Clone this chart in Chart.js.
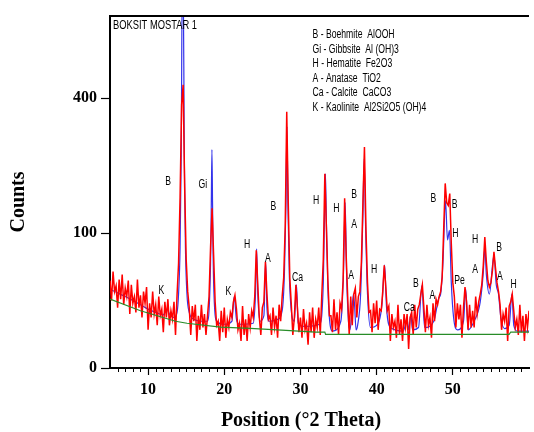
<!DOCTYPE html>
<html lang="bs">
<head>
<meta charset="UTF-8">
<title>Boksit Mostar 1 - XRD</title>
<script src="https://cdn.jsdelivr.net/npm/chart.js"></script>
<style>
  body { margin: 0; background: #fff; }
  #wrap { width: 534px; height: 432px; position: relative; }
</style>
</head>
<body>
<div id="wrap"><canvas id="xrd"></canvas></div>
<script>
// measured scan (counts), 5 to 60 deg 2theta, 0.2 deg step
const scanStart = 5;
const scanStep = 0.2;
const obsCounts = [
  42, 25, 51, 32, 37, 20, 43, 26, 48, 22,
  35, 28, 42, 16, 38, 23, 28, 17, 43, 20,
  29, 14, 32, 23, 36, 8, 23, 14, 32, 16,
  22, 10, 28, 15, 19, 7, 24, 14, 26, 10,
  18, 13, 24, 6, 29, 60, 160, 380, 440, 180,
  65, 32, 20, 6, 21, 12, 22, 4, 15, 8,
  22, 9, 16, 6, 15, 28, 80, 140, 70, 24,
  10, 12, 4, 18, 7, 20, 5, 13, 9, 17,
  14, 24, 29, 19, 8, 11, 4, 21, 6, 13,
  4, 16, 9, 18, 14, 28, 76, 38, 14, 6,
  20, 24, 62, 30, 13, 15, 6, 20, 9, 15,
  5, 22, 12, 28, 45, 110, 360, 150, 45, 22,
  6, 14, 38, 20, 7, 14, 5, 19, 8, 11,
  3, 17, 7, 20, 5, 13, 9, 20, 6, 29,
  65, 207, 110, 42, 15, 15, 7, 26, 8, 17,
  6, 23, 19, 42, 158, 70, 28, 6, 28, 10,
  30, 35, 14, 28, 32, 62, 150, 268, 105, 40,
  17, 18, 7, 23, 11, 25, 8, 19, 18, 32,
  58, 36, 18, 21, 4, 16, 9, 12, 5, 22,
  6, 13, 4, 16, 9, 16, 2, 14, 17, 6,
  22, 9, 19, 22, 30, 38, 20, 7, 22, 10,
  14, 5, 23, 12, 26, 22, 28, 32, 45, 105,
  187, 150, 145, 167, 85, 40, 28, 9, 23, 13,
  22, 5, 20, 36, 24, 8, 22, 9, 18, 9,
  28, 16, 24, 30, 38, 58, 94, 62, 42, 36,
  40, 52, 74, 55, 40, 32, 22, 8, 16, 12,
  20, 4, 21, 24, 30, 18, 9, 13, 6, 22,
  7, 15, 4, 16, 9, 18
];

// calculated profile
const calcX = [5, 6, 7, 8, 9, 10, 11, 12, 12.5, 12.8, 13.4, 13.8, 14.0, 14.2, 14.35, 14.5, 14.6, 14.75, 14.9, 15.1, 15.4,
  16, 17, 17.8, 18.0, 18.2, 18.3, 18.38, 18.46, 18.55, 18.75, 19.0, 20, 21.0, 21.3, 21.6, 22, 23.8, 24.1, 24.25, 24.4, 24.7,
  25.2, 25.43, 25.6, 25.9, 27, 27.6, 27.9, 28.1, 28.23, 28.35, 28.55, 28.8, 29.2, 29.48, 29.7, 30.5, 32.5, 33.0, 33.15, 33.28,
  33.4, 33.6, 33.9, 34.2, 35.3, 35.65, 35.87, 36.05, 36.3, 36.5, 36.7, 36.95, 37.1, 37.3, 37.5, 37.9, 38.2, 38.37, 38.55, 38.8,
  39.2, 40.0, 40.7, 41.05, 41.3, 41.8, 43.5, 44.0, 44.2, 44.5, 44.7, 45.5, 45.93, 46.3, 47.5, 48.17, 48.4, 48.7, 49.04, 49.3,
  49.56, 49.8, 50.1, 50.6, 51.4, 51.7, 52.0, 52.8, 53.6, 54.0, 54.2, 54.4, 54.8, 55.4, 55.7, 56.0, 56.3, 56.8, 57.4, 57.76,
  58.0, 58.5, 60];
const calcCounts = [34, 31, 28, 25, 22, 19, 17, 15.5, 19, 16, 14, 17, 30, 80, 250, 900, 900, 250, 80, 30, 17,
  13, 12, 12, 18, 60, 150, 262, 150, 60, 18, 12, 10.5, 12, 28, 13, 10.5, 11, 30, 78, 30, 12,
  15, 62, 20, 12, 13, 18, 50, 150, 320, 150, 45, 18, 12, 38, 11, 9.5, 10.5, 40, 120, 207,
  120, 35, 10, 7.5, 12, 50, 150, 50, 12, 8, 14, 30, 22, 8, 10, 30, 130, 241, 110, 30,
  9, 10, 22, 58, 20, 9, 7.5, 13, 8, 16, 8, 9, 37, 9, 12, 27, 30, 60, 154, 90,
  104, 40, 14, 8, 12, 34, 8, 12, 24, 50, 80, 48, 30, 70, 38, 30, 14, 8.5, 10, 30,
  10, 7.5, 7.5];

// background line
const bgX = [5, 9, 13.6, 15.1, 19.5, 23.4, 28.1, 32, 33.2, 33.3, 57.4, 57.6, 60];
const bgCounts = [26, 18, 12, 11, 9.2, 8.6, 7.8, 7.1, 7.1, 6.2, 6.2, 7.1, 7.1];

const countTicks = [0, 100, 400];

const phaseLabels = ['K', 'B', 'Gi', 'K', 'H', 'A', 'B', 'Ca', 'H', 'H', 'B', 'A', 'A', 'H', 'Ca', 'B', 'A', 'B', 'B', 'H', 'Pe', 'H', 'A', 'B', 'A', 'H'];
const phaseLabelTheta = [11.74, 12.64, 17.18, 20.54, 23.0, 25.73, 26.46, 29.61, 32.07, 34.7, 37.03, 37.03, 36.64, 39.68, 44.29, 45.16, 47.32, 47.44, 50.23, 50.34, 50.89, 52.93, 52.93, 56.07, 56.17, 57.98];
const phaseLabelCounts = [33, 191, 185, 32, 83, 65, 142, 45, 153, 139, 164, 113, 47, 53, 20, 39, 29, 158, 147, 99, 42, 90, 53, 80, 46, 38];

const sampleName = 'BOKSIT MOSTAR 1';
const phaseKey = [
  'B - Boehmite  AlOOH',
  'Gi - Gibbsite  Al (OH)3',
  'H - Hematite  Fe2O3',
  'A - Anatase  TiO2',
  'Ca - Calcite  CaCO3',
  'K - Kaolinite  Al2Si2O5 (OH)4'
];

// square-root count axis, like the diffractometer software
class SqrtScale extends Chart.LinearScale {
  static id = 'sqrt';
  static defaults = Chart.LinearScale.defaults;
  buildTicks() {
    return countTicks.map(v => ({ value: v }));
  }
  getPixelForValue(value) {
    const lo = Math.sqrt(this.min), hi = Math.sqrt(this.max);
    return this.getPixelForDecimal((Math.sqrt(Math.max(value, 0)) - lo) / (hi - lo));
  }
  getValueForPixel(pixel) {
    const lo = Math.sqrt(this.min), hi = Math.sqrt(this.max);
    const s = lo + this.getDecimalForPixel(pixel) * (hi - lo);
    return s * s;
  }
}
Chart.register(SqrtScale);

const serif = '"Liberation Serif", "Times New Roman", serif';
const sans = '"Liberation Sans", Arial, sans-serif';

function narrowText(ctx, text, x, y, align) {
  ctx.save();
  ctx.translate(x, y);
  ctx.scale(0.72, 1);
  ctx.textAlign = align;
  ctx.fillText(text, 0, 0);
  ctx.restore();
}

const extras = {
  id: 'extras',
  afterDraw(chart) {
    const ctx = chart.ctx;
    const area = chart.chartArea;
    const xs = chart.scales.x, ys = chart.scales.y;
    ctx.save();
    // top frame line
    ctx.strokeStyle = '#000';
    ctx.lineWidth = 2;
    ctx.beginPath();
    ctx.moveTo(area.left - 1, area.top);
    ctx.lineTo(area.right, area.top);
    ctx.stroke();
    // minor ticks every degree
    ctx.lineWidth = 1;
    ctx.beginPath();
    for (let v = 6; v < 60; v++) {
      if (v % 10 === 0) continue;
      const px = Math.round(xs.getPixelForValue(v)) + 0.5;
      ctx.moveTo(px, area.bottom);
      ctx.lineTo(px, area.bottom + 4);
    }
    ctx.stroke();

    // axis titles
    ctx.fillStyle = '#000';
    ctx.font = 'bold 20px ' + serif;
    ctx.textAlign = 'center';
    ctx.textBaseline = 'middle';
    ctx.fillText('Position (°2 Theta)', 301, 421);
    ctx.save();
    ctx.translate(19, 202);
    ctx.rotate(-Math.PI / 2);
    ctx.fillText('Counts', 0, 0);
    ctx.restore();

    // text inside the plot
    ctx.font = '13px ' + sans;
    narrowText(ctx, sampleName, area.left + 3, area.top + 9, 'left');
    ctx.font = '12px ' + sans;
    phaseKey.forEach((t, i) => narrowText(ctx, t, 312.5, 35 + i * 14.5, 'left'));
    phaseLabels.forEach((t, i) => {
      narrowText(ctx, t, xs.getPixelForValue(phaseLabelTheta[i]), ys.getPixelForValue(phaseLabelCounts[i]), 'center');
    });
    ctx.restore();
  }
};

const ctx = document.getElementById('xrd');
new Chart(ctx, {
  type: 'line',
  data: {
    datasets: [
      {
        label: 'Background',
        data: bgX.map((x, i) => ({ x: x, y: bgCounts[i] })),
        borderColor: 'rgb(40,140,40)',
        borderWidth: 1.2,
        pointRadius: 0
      },
      {
        label: 'Observed',
        data: obsCounts.map((c, i) => ({ x: scanStart + i * scanStep, y: c })),
        borderColor: 'rgb(255,0,0)',
        borderWidth: 1.5,
        pointRadius: 0
      },
      {
        label: 'Calculated',
        data: calcX.map((x, i) => ({ x: x, y: calcCounts[i] })),
        borderColor: 'rgba(0,0,230,0.8)',
        borderWidth: 1.2,
        pointRadius: 0,
        cubicInterpolationMode: 'monotone'
      }
    ]
  },
  options: {
    responsive: true,
    maintainAspectRatio: false,
    animation: false,
    events: [],
    layout: { padding: { top: 16, left: 0, right: 0, bottom: 0 } },
    plugins: { legend: { display: false }, tooltip: { enabled: false } },
    scales: {
      x: {
        type: 'linear',
        min: 5,
        max: 60,
        afterFit: s => { s.height = 64; },
        border: { display: true, color: '#000', width: 2 },
        grid: {
          drawOnChartArea: false,
          tickLength: 7,
          tickWidth: 1.2,
          tickColor: c => (c.tick && c.tick.value % 10 === 0 && c.tick.value < 60) ? '#000' : 'rgba(0,0,0,0)'
        },
        ticks: {
          stepSize: 1,
          autoSkip: false,
          maxRotation: 0,
          padding: 5,
          color: '#000',
          font: { family: serif, size: 16, weight: 'bold' },
          callback: v => (v % 10 === 0 && v < 60) ? String(v) : ''
        }
      },
      y: {
        type: 'sqrt',
        min: 0,
        max: 680,
        afterFit: s => { s.width = 110; },
        border: { display: true, color: '#000', width: 2 },
        grid: { drawOnChartArea: false, tickLength: 9, tickColor: '#000', tickWidth: 1.2 },
        ticks: {
          padding: 4,
          color: '#000',
          font: { family: serif, size: 16, weight: 'bold' },
          callback: v => String(v)
        }
      }
    }
  },
  plugins: [extras]
});
</script>
</body>
</html>
